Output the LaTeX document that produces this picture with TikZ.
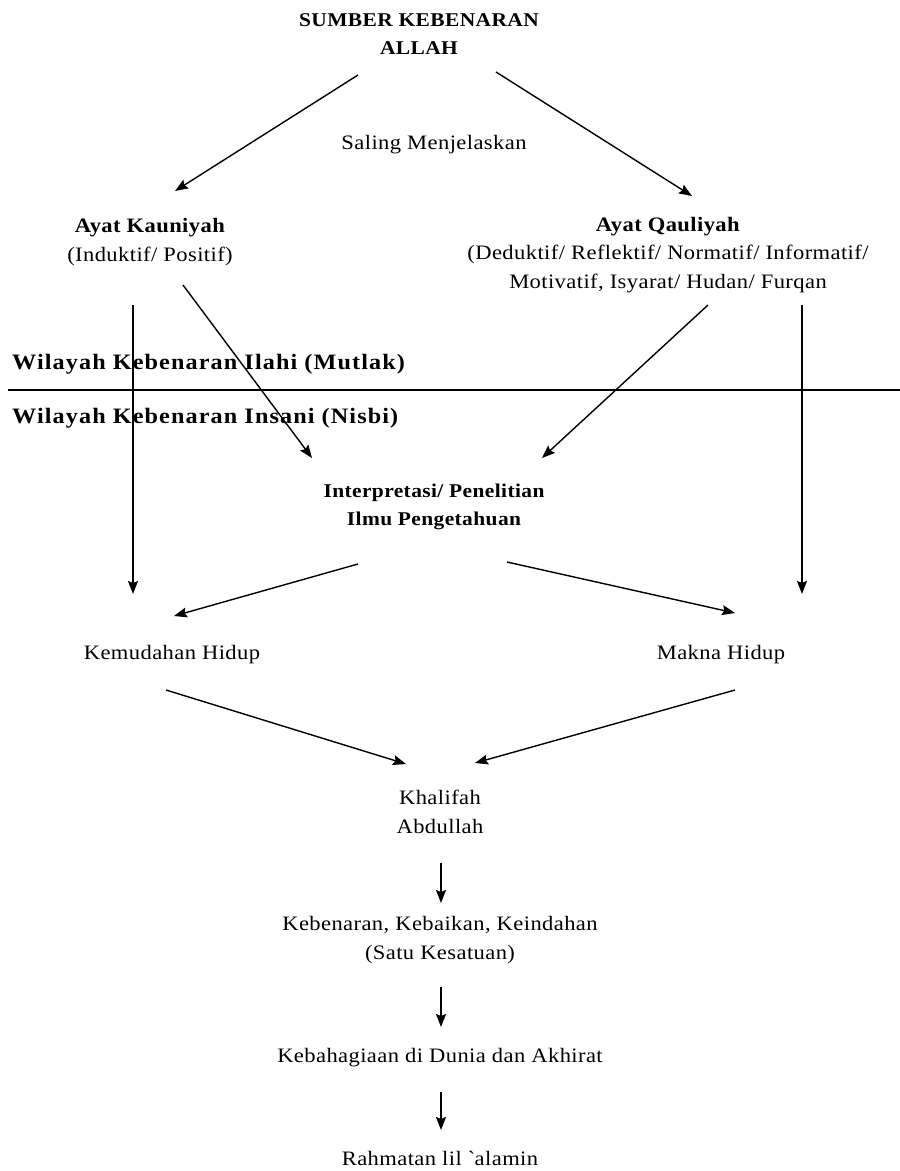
\documentclass[tikz,border=0pt]{standalone}
\usepackage{fontspec}
\setmainfont[FakeStretch=1.1,LetterSpace=2]{Liberation Serif}
\usetikzlibrary{arrows.meta}
\tikzset{
  txt/.style={font=\fontsize{20.5}{28.5}\selectfont, align=center, inner sep=0pt},
  btxt/.style={font=\bfseries\fontsize{19.5}{28.5}\selectfont, align=center, inner sep=0pt},
  bigt/.style={font=\bfseries\fontsize{22}{24}\selectfont\addfontfeatures{LetterSpace=5}, inner sep=0pt, anchor=base west},
  arr/.style={-{Stealth[length=13pt,width=10pt,inset=2pt]}, line width=1.4pt},
  ln/.style={line width=1.3pt}
}
\begin{document}
\begin{tikzpicture}[x=1pt,y=-1pt]
\useasboundingbox (0,0) rectangle (900,1171);
% text nodes
\node[btxt] (src) at (419,34) {SUMBER KEBENARAN\\ALLAH};
\node[txt] (saling) at (434,145) {Saling Menjelaskan};
\node[txt] (kau) at (150,242) {\textbf{Ayat Kauniyah}\\(Induktif/ Positif)};
\node[txt] (qau) at (668,255) {\textbf{Ayat Qauliyah}\\(Deduktif/ Reflektif/ Normatif/ Informatif/\\Motivatif, Isyarat/ Hudan/ Furqan};
\node[bigt] (ilahi) at (12,369) {Wilayah Kebenaran Ilahi (Mutlak)};
\node[bigt] (insani) at (12,423) {Wilayah Kebenaran Insani (Nisbi)};
\node[btxt] (interp) at (434,507) {Interpretasi/ Penelitian\\Ilmu Pengetahuan};
\node[txt] (kemud) at (172,655) {Kemudahan Hidup};
\node[txt] (makna) at (721,655) {Makna Hidup};
\node[txt] (khal) at (440,812) {Khalifah\\Abdullah};
\node[txt] (keben) at (440,940) {Kebenaran, Kebaikan, Keindahan\\(Satu Kesatuan)};
\node[txt] (bahagia) at (440,1058) {Kebahagiaan di Dunia dan Akhirat};
\node[txt] (rahmat) at (440,1158) {Rahmatan lil \textasciigrave alamin};
% connector end points
\coordinate (srcL) at (358,75);   \coordinate (kauT) at (175,191);
\coordinate (srcR) at (496,72);   \coordinate (qauT) at (692,196);
\coordinate (kauV) at (133,305);  \coordinate (kemV) at (133,594);
\coordinate (kauD) at (183,285);  \coordinate (intL) at (312,458);
\coordinate (qauD) at (708,305);  \coordinate (intR) at (542,458);
\coordinate (qauV) at (802,305);  \coordinate (makV) at (802,594);
\coordinate (intBL) at (358,564); \coordinate (kemT) at (174,616);
\coordinate (intBR) at (507,562); \coordinate (makT) at (735,613);
\coordinate (kemB) at (166,690);  \coordinate (khalL) at (406,764);
\coordinate (makB) at (735,690);  \coordinate (khalR) at (475,763);
\coordinate (khalB) at (441,863); \coordinate (kebT) at (441,903);
\coordinate (kebB) at (441,987);  \coordinate (bahT) at (441,1027);
\coordinate (bahB) at (441,1092); \coordinate (rahT) at (441,1130);
\coordinate (hlL) at (8,390);     \coordinate (hlR) at (900,390);
% divider
\draw[ln] (hlL) -- (hlR);
% connectors
\draw[arr] (srcL) -- (kauT);
\draw[arr] (srcR) -- (qauT);
\draw[arr] (kauV) -- (kemV);
\draw[arr] (kauD) -- (intL);
\draw[arr] (qauD) -- (intR);
\draw[arr] (qauV) -- (makV);
\draw[arr] (intBL) -- (kemT);
\draw[arr] (intBR) -- (makT);
\draw[arr] (kemB) -- (khalL);
\draw[arr] (makB) -- (khalR);
\draw[arr] (khalB) -- (kebT);
\draw[arr] (kebB) -- (bahT);
\draw[arr] (bahB) -- (rahT);
\end{tikzpicture}
\end{document}
